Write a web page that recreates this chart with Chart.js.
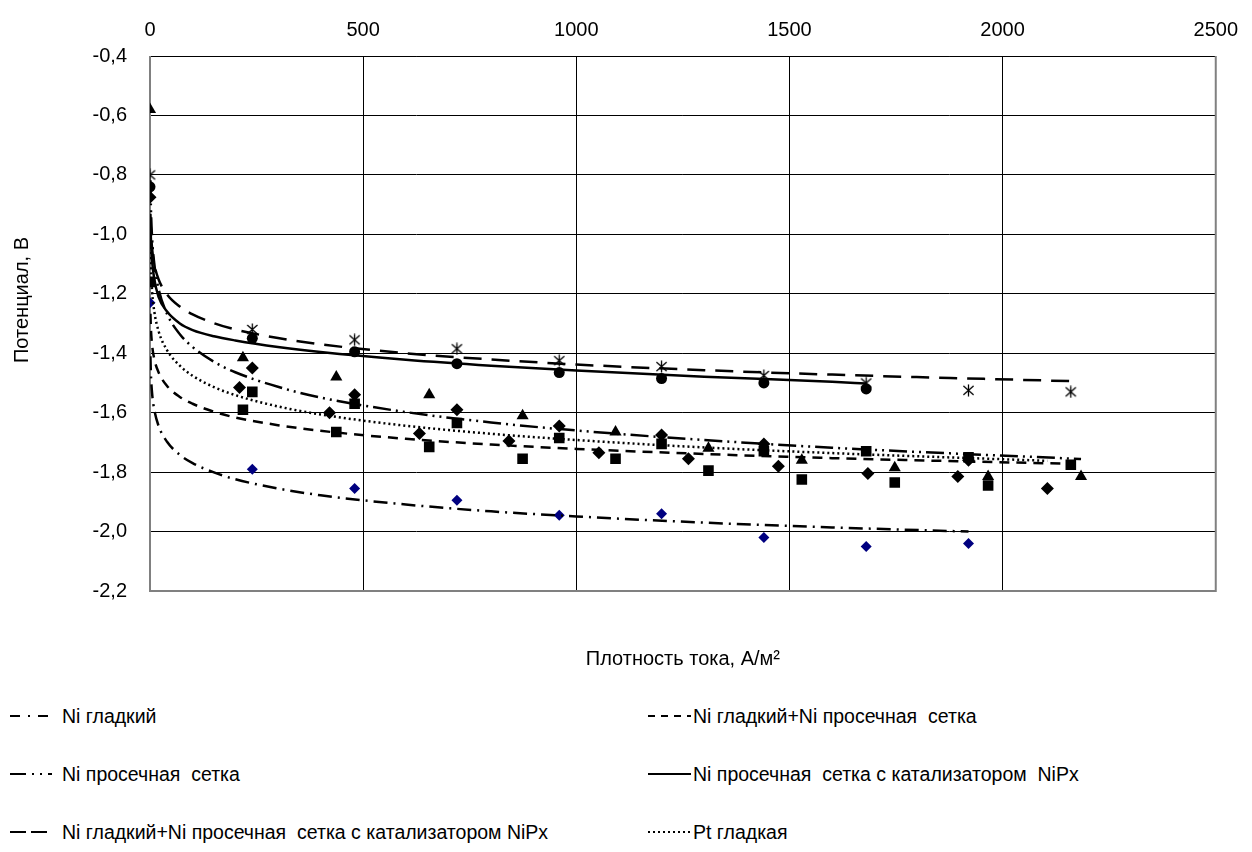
<!DOCTYPE html>
<html>
<head>
<meta charset="utf-8">
<script src="https://cdn.jsdelivr.net/npm/chart.js@4.4.0/dist/chart.umd.min.js"></script>
<style>
  body { margin: 0; background: #fff; width: 1252px; height: 852px; position: relative; overflow: hidden; font-family: "Liberation Sans", Arial, sans-serif; }
  #chart { position: absolute; left: 0; top: 0; }
  .item { position: absolute; display: flex; align-items: center; height: 26px; margin-top: -13px; font-size: 19.5px; color: #000; white-space: pre; }
  .item canvas { position: absolute; top: 8px; }
</style>
</head>
<body>
<canvas id="chart" width="1252" height="690"></canvas>
<div id="legend"></div>
<script>
// axis ticks
const xTicks = [0, 500, 1000, 1500, 2000, 2500];
const yTicks = [-0.4, -0.6, -0.8, -1.0, -1.2, -1.4, -1.6, -1.8, -2.0, -2.2];
const xAxisTitle = 'Плотность тока, А/м²';
const yAxisTitle = 'Потенциал, В';

const seriesNames = [
  'Ni гладкий',
  'Ni гладкий+Ni просечная  сетка',
  'Ni просечная  сетка',
  'Ni просечная  сетка с катализатором  NiPx',
  'Ni гладкий+Ni просечная  сетка с катализатором NiPx',
  'Pt гладкая'
];

// measured points
const niSmoothX = [0, 240, 480, 720, 960, 1200, 1440, 1680, 1920];
const niSmoothY = [-1.23, -1.79, -1.855, -1.895, -1.945, -1.94, -2.02, -2.05, -2.04];

const niSmoothMeshX = [0, 218, 240, 437, 480, 655, 720, 874, 960, 1092, 1200, 1310, 1440, 1529, 1680, 1747, 1920, 1966, 2160];
const niSmoothMeshY = [-1.16, -1.59, -1.53, -1.665, -1.57, -1.715, -1.635, -1.755, -1.685, -1.755, -1.705, -1.795, -1.73, -1.825, -1.73, -1.835, -1.75, -1.845, -1.775];

const niMeshX = [0, 218, 437, 655, 874, 1092, 1310, 1529, 1747, 1966, 2184];
const niMeshY = [-0.58, -1.415, -1.48, -1.54, -1.61, -1.665, -1.72, -1.76, -1.785, -1.815, -1.815];

const niMeshCatX = [0, 240, 480, 720, 960, 1200, 1440, 1680];
const niMeshCatY = [-0.84, -1.35, -1.395, -1.435, -1.465, -1.485, -1.50, -1.52];

const niSmoothMeshCatX = [0, 240, 480, 720, 960, 1200, 1440, 1680, 1920, 2160];
const niSmoothMeshCatY = [-0.80, -1.32, -1.355, -1.385, -1.425, -1.445, -1.475, -1.50, -1.525, -1.53];

const ptX = [0, 210, 240, 421, 480, 632, 720, 842, 960, 1053, 1200, 1263, 1440, 1474, 1684, 1895, 1920, 2105];
const ptY = [-0.875, -1.515, -1.45, -1.60, -1.54, -1.67, -1.59, -1.695, -1.645, -1.735, -1.675, -1.755, -1.705, -1.78, -1.805, -1.815, -1.76, -1.855];

// trend lines
const trendX = [1, 2, 5, 10, 20, 40, 70, 100, 150, 200, 300, 400, 600, 800, 1000, 1300, 1600];
const trendEndX = [1920, 2160, 2184, 1680, 2160, 2105];
const trendNiSmooth = [-1.41, -1.465, -1.536, -1.59, -1.644, -1.698, -1.742, -1.77, -1.801, -1.824, -1.855, -1.878, -1.909, -1.932, -1.949, -1.97, -1.986, -2.0];
const trendNiSmoothMesh = [-1.267, -1.313, -1.373, -1.419, -1.464, -1.51, -1.547, -1.57, -1.597, -1.616, -1.642, -1.661, -1.688, -1.707, -1.722, -1.739, -1.753, -1.772];
const trendNiMesh = [-0.818, -0.902, -1.014, -1.098, -1.183, -1.268, -1.336, -1.379, -1.429, -1.464, -1.513, -1.549, -1.598, -1.633, -1.66, -1.692, -1.718, -1.756];
const trendNiMeshCat = [-0.95, -1.01, -1.09, -1.15, -1.21, -1.26, -1.30, -1.322, -1.343, -1.357, -1.379, -1.396, -1.422, -1.442, -1.458, -1.479, -1.496, -1.502];
const trendNiSmoothMeshCat = [-0.931, -0.982, -1.049, -1.1, -1.151, -1.202, -1.243, -1.269, -1.299, -1.32, -1.349, -1.37, -1.4, -1.421, -1.438, -1.457, -1.472, -1.494];
const trendPt = [-1.043, -1.108, -1.194, -1.259, -1.325, -1.39, -1.442, -1.476, -1.514, -1.541, -1.579, -1.606, -1.644, -1.671, -1.692, -1.717, -1.736, -1.762];

const pointX = [niSmoothX, niSmoothMeshX, niMeshX, niMeshCatX, niSmoothMeshCatX, ptX];
const pointY = [niSmoothY, niSmoothMeshY, niMeshY, niMeshCatY, niSmoothMeshCatY, ptY];
const trendY = [trendNiSmooth, trendNiSmoothMesh, trendNiMesh, trendNiMeshCat, trendNiSmoothMeshCat, trendPt];

function asterisk(size) {
  const c = document.createElement('canvas');
  c.width = c.height = size;
  const g = c.getContext('2d');
  const m = size / 2, r = size / 2 - 0.5;
  g.strokeStyle = '#000';
  g.lineWidth = 1.3;
  g.beginPath();
  g.moveTo(m, m - r); g.lineTo(m, m + r);
  g.moveTo(m - r * 0.85, m - r * 0.75); g.lineTo(m + r * 0.85, m + r * 0.75);
  g.moveTo(m - r * 0.85, m + r * 0.75); g.lineTo(m + r * 0.85, m - r * 0.75);
  g.stroke();
  return c;
}

const styles = [
  { marker: 'rectRot', radius: 5.5, color: '#000080', dash: [14, 6, 2, 6], legendDash: [10, 8, 2, 8] },
  { marker: 'rect', radius: 7.5, color: '#000', dash: [10, 7], legendDash: [7, 6] },
  { marker: 'triangle', radius: 7, color: '#000', dash: [18, 5, 2, 5, 2, 5], legendDash: [16, 6, 2, 6, 2, 6] },
  { marker: 'circle', radius: 5.5, color: '#000', dash: [], legendDash: [] },
  { marker: asterisk(13), radius: 6.5, color: '#000', dash: [18, 10], legendDash: [16, 5] },
  { marker: 'rectRot', radius: 6.5, color: '#000', dash: [2, 3], legendDash: [2, 3] }
];

const datasets = [];
seriesNames.forEach((name, i) => {
  const st = styles[i];
  const tx = trendX.concat([trendEndX[i]]);
  datasets.push({
    label: name,
    inLegend: true,
    legendDash: st.legendDash,
    data: tx.map((x, k) => ({ x, y: trendY[i][k] })),
    showLine: true,
    borderColor: '#000',
    borderWidth: 2.5,
    borderDash: st.dash,
    cubicInterpolationMode: 'monotone',
    pointRadius: 0,
    order: 0
  });
  datasets.push({
    label: name + ' (точки)',
    inLegend: false,
    data: pointX[i].map((x, k) => ({ x, y: pointY[i][k] })),
    showLine: false,
    pointStyle: st.marker,
    pointRadius: st.radius,
    pointBackgroundColor: st.color,
    pointBorderColor: st.color,
    pointBorderWidth: 0,
    order: 1
  });
});

const plotFrame = {
  id: 'plotFrame',
  beforeDatasetsDraw(chart) {
    const { ctx, chartArea: a } = chart;
    ctx.save();
    ctx.strokeStyle = '#808080';
    ctx.lineWidth = 2;
    ctx.beginPath();
    ctx.moveTo(a.left, a.top);
    ctx.lineTo(a.left, a.bottom);
    ctx.lineTo(a.right, a.bottom);
    ctx.lineTo(a.right, a.top);
    ctx.stroke();
    ctx.restore();
  }
};

// y axis title sits a bit above the middle of the plot, as in the original
const yTitle = {
  id: 'yTitle',
  afterDraw(chart) {
    const ctx = chart.ctx;
    ctx.save();
    ctx.translate(22, 300);
    ctx.rotate(-Math.PI / 2);
    ctx.font = '20px "Liberation Sans", Arial, sans-serif';
    ctx.fillStyle = '#000';
    ctx.textAlign = 'center';
    ctx.textBaseline = 'middle';
    ctx.fillText(yAxisTitle, 0, 0);
    ctx.restore();
  }
};

Chart.defaults.font.family = '"Liberation Sans", Arial, sans-serif';
Chart.defaults.font.size = 20;
Chart.defaults.color = '#000';

const chart = new Chart(document.getElementById('chart'), {
  type: 'scatter',
  data: { datasets },
  options: {
    responsive: false,
    animation: false,
    devicePixelRatio: 1,
    events: [],
    layout: { padding: { left: 0, right: 30, top: 0, bottom: 0 } },
    scales: {
      x: {
        type: 'linear',
        position: 'top',
        min: 0, max: 2500,
        afterBuildTicks: s => { s.ticks = xTicks.map(v => ({ value: v })); },
        afterFit: s => { s.height = 56; },
        grid: { color: '#000', lineWidth: 1, drawTicks: false },
        border: { color: '#000', width: 1 },
        ticks: { padding: 14, maxRotation: 0, callback: v => String(v) }
      },
      y: {
        type: 'linear',
        min: -2.2, max: -0.4,
        afterBuildTicks: s => { s.ticks = yTicks.map(v => ({ value: v })); },
        afterFit: s => { s.width = 150; },
        grid: { color: '#000', lineWidth: 1, drawTicks: false },
        border: { display: false },
        ticks: { padding: 23, callback: v => v.toFixed(1).replace('.', ',') }
      }
    },
    plugins: {
      legend: { display: false },
      tooltip: { enabled: false },
      title: {
        display: true,
        position: 'bottom',
        fullSize: false,
        text: xAxisTitle,
        font: { size: 20, weight: 'normal' },
        color: '#000',
        padding: { top: 56, bottom: 19 }
      }
    }
  },
  plugins: [plotFrame, yTitle]
});

// legend in two columns, built from the chart's trend datasets
const legendRows = [716, 774, 832];
const legendCols = [{ line: 10, text: 62 }, { line: 648, text: 693 }];
const legendEl = document.getElementById('legend');
chart.data.datasets.filter(d => d.inLegend).forEach((d, i) => {
  const col = legendCols[i % 2];
  const item = document.createElement('div');
  item.className = 'item';
  item.style.left = col.line + 'px';
  item.style.top = legendRows[Math.floor(i / 2)] + 'px';
  const c = document.createElement('canvas');
  const w = col.text - col.line - (i % 2 ? 2 : 10);
  c.width = w; c.height = 10;
  c.style.left = '0px';
  const g = c.getContext('2d');
  g.strokeStyle = '#000';
  g.lineWidth = 2;
  g.setLineDash(d.legendDash);
  g.beginPath(); g.moveTo(0, 5); g.lineTo(w, 5); g.stroke();
  const label = document.createElement('span');
  label.textContent = d.label;
  label.style.marginLeft = (col.text - col.line) + 'px';
  item.appendChild(c);
  item.appendChild(label);
  legendEl.appendChild(item);
});
</script>
</body>
</html>
